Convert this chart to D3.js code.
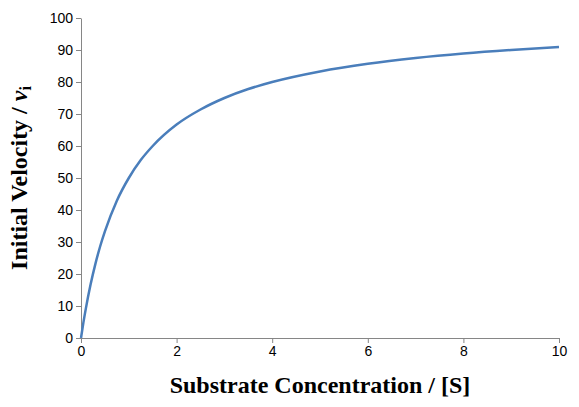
<!DOCTYPE html>
<html><head><meta charset="utf-8">
<script src="https://cdn.jsdelivr.net/npm/d3@7"></script>
<style>body{margin:0;background:#fff}</style>
</head><body><div id="app"></div>
<script>
// values
const substrate = [0, 0.05, 0.1, 0.2, 0.3, 0.4, 0.5, 0.75, 1, 1.25, 1.5, 2, 2.5, 3, 3.5, 4, 5, 6, 7, 8, 9, 10];
const velocity = [0, 4.8, 9.1, 16.7, 23.1, 28.6, 33.3, 42.9, 50, 55.6, 60, 66.7, 71.4, 75, 77.8, 80, 83.3, 85.7, 87.5, 88.9, 90, 90.9];
const xTicks = [0, 2, 4, 6, 8, 10];
const yTicks = [0, 10, 20, 30, 40, 50, 60, 70, 80, 90, 100];

const svg = d3.select("#app").append("svg").attr("width", 579).attr("height", 407);
const x = d3.scaleLinear().domain([0, 10]).range([81, 559]);
const y = d3.scaleLinear().domain([0, 100]).range([338, 18]);

const xAxis = svg.append("g").attr("transform", "translate(0,338)")
  .call(d3.axisBottom(x).tickValues(xTicks).tickSize(5).tickSizeOuter(0));
const yAxis = svg.append("g").attr("transform", "translate(81,0)")
  .call(d3.axisLeft(y).tickValues(yTicks).tickSize(5).tickSizeOuter(0));
[xAxis, yAxis].forEach(a => {
  a.selectAll("path,line").attr("stroke", "#868686");
  a.selectAll("text").attr("font-family", "Liberation Sans").attr("font-size", 14).attr("fill", "#000");
});

svg.append("path")
  .datum(substrate.map((s, i) => [s, velocity[i]]))
  .attr("fill", "none").attr("stroke", "#4a7ebb").attr("stroke-width", 2.5)
  .attr("d", d3.line().x(d => x(d[0])).y(d => y(d[1])).curve(d3.curveMonotoneX));

svg.append("text").attr("x", 320).attr("y", 393).attr("text-anchor", "middle")
  .attr("font-family", "Liberation Serif").attr("font-weight", "bold").attr("font-size", 24)
  .text("Substrate Concentration / [S]");

const yl = svg.append("text").attr("transform", "translate(27,178) rotate(-90)")
  .attr("text-anchor", "middle")
  .attr("font-family", "Liberation Serif").attr("font-weight", "bold").attr("font-size", 24);
yl.append("tspan").text("Initial Velocity / ");
yl.append("tspan").attr("font-style", "italic").text("v");
yl.append("tspan").attr("font-size", 16).attr("dy", 4).text("i");
</script></body></html>
